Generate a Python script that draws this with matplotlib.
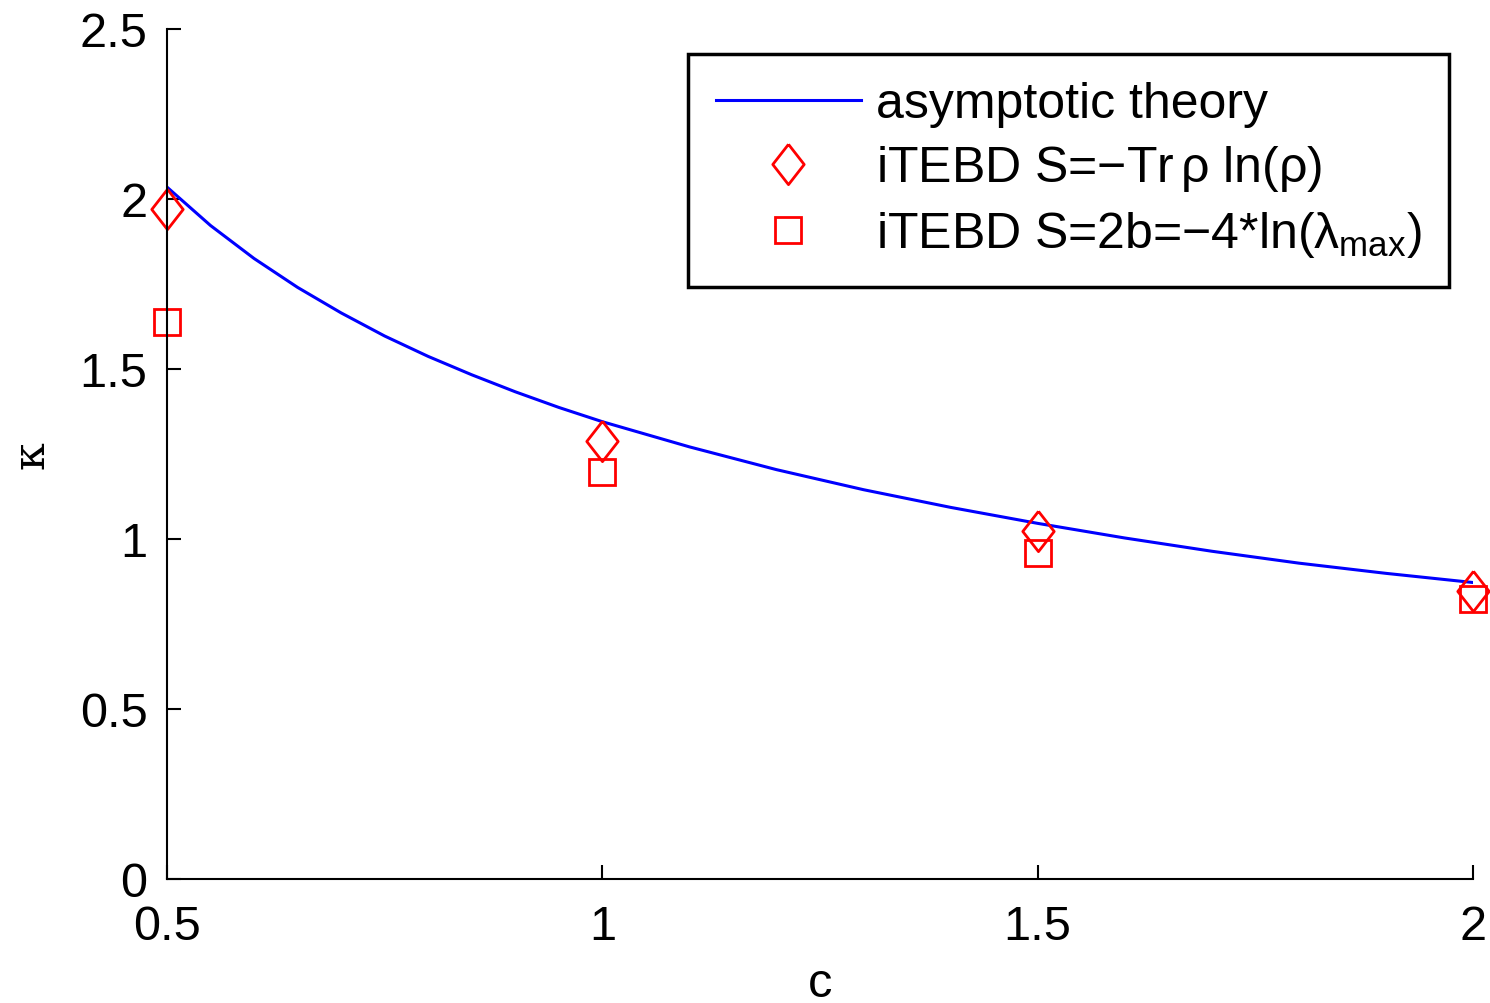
import matplotlib
matplotlib.use('Agg')
import matplotlib.pyplot as plt

plt.rcParams['font.family'] = ['Liberation Sans', 'DejaVu Sans']
plt.rcParams['mathtext.fontset'] = 'custom'
plt.rcParams['mathtext.rm'] = 'Liberation Sans'
plt.rcParams['mathtext.it'] = 'Liberation Sans'

# asymptotic theory curve
c_theory = [0.5, 0.55, 0.6, 0.65, 0.7, 0.75, 0.8, 0.85, 0.9, 0.95, 1.0, 1.1, 1.2, 1.3,
            1.4, 1.5, 1.6, 1.7, 1.8, 1.9, 2.0]
k_theory = [2.035, 1.922, 1.825, 1.740, 1.665, 1.597, 1.537, 1.483, 1.433, 1.387, 1.345,
            1.271, 1.204, 1.145, 1.093, 1.046, 1.003, 0.964, 0.929, 0.899, 0.872]

# iTEBD points
c_pts = [0.5, 1.0, 1.5, 2.0]
k_diamond = [1.97, 1.288, 1.024, 0.847]
k_square = [1.638, 1.197, 0.959, 0.824]

diamond = [(0, 1), (0.78, 0), (0, -1), (-0.78, 0), (0, 1)]

fig = plt.figure(figsize=(14.9, 10.04), dpi=100)
ax = fig.add_axes([167/1490, 1 - 880/1004, (1473-167)/1490, (880-30)/1004])

ax.plot(c_theory, k_theory, color='#0000ff', lw=2.2, label='asymptotic theory')
ax.plot(c_pts, k_diamond, ls='none', marker=diamond, ms=29, mfc='none', mec='#ff0000', mew=2,
        clip_on=False, label=r'iTEBD S=$-$Tr$\,\rho$ ln($\rho$)')
ax.plot(c_pts, k_square, ls='none', marker='s', ms=19, mfc='none', mec='#ff0000', mew=2,
        clip_on=False, label=r'iTEBD S=2b=$-$4*ln($\lambda_{\rm max}$)')

ax.set_xlim(0.5, 2)
ax.set_ylim(0, 2.5)
ax.set_xticks([0.5, 1, 1.5, 2])
ax.set_xticklabels(['0.5', '1', '1.5', '2'])
ax.set_yticks([0, 0.5, 1, 1.5, 2, 2.5])
ax.set_yticklabels(['0', '0.5', '1', '1.5', '2', '2.5'])
ax.tick_params(direction='in', length=10, width=1.5, labelsize=35)
ax.tick_params(axis='x', pad=18)
ax.tick_params(axis='y', pad=14)
ax.spines['top'].set_visible(False)
ax.spines['right'].set_visible(False)
for s in ['left', 'bottom']:
    ax.spines[s].set_linewidth(1.5)

ax.set_xlabel('c', fontsize=35)
ax.xaxis.set_label_coords(0.5, -0.096)
ax.set_ylabel('κ', fontsize=32, family=['DejaVu Serif'])
ax.yaxis.set_label_coords(-0.088, 0.5)

leg = ax.legend(loc='upper right', bbox_to_anchor=(0.9816, 0.9706), borderaxespad=0,
                fontsize=36, frameon=True, fancybox=False, edgecolor='black', framealpha=1,
                handlelength=2.9, handletextpad=0.3, borderpad=0.55, labelspacing=0.32)
leg.get_frame().set_linewidth(2.5)

fig.savefig('out.png', dpi=100)
